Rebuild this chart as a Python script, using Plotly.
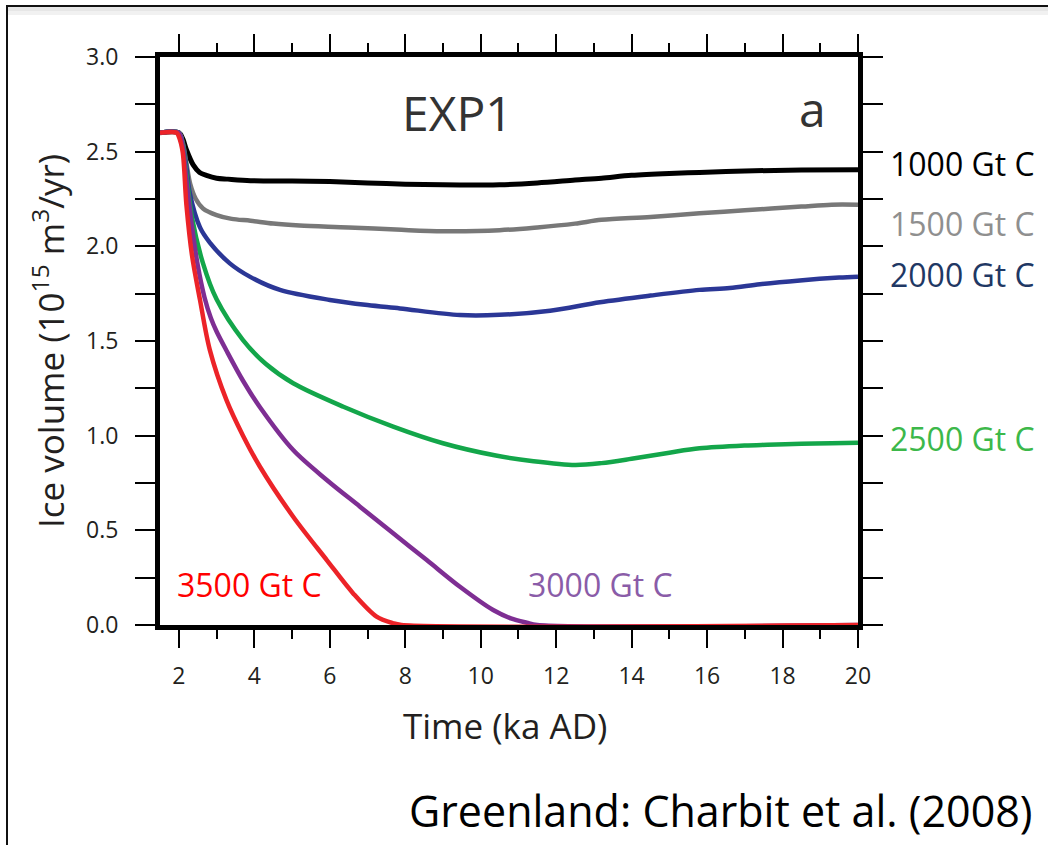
import plotly.graph_objects as go

# Ice volume time series, time in ka AD, volume in 10^15 m^3/yr
t_1000 = [1.5, 2.0, 2.1, 2.2, 2.38, 2.55, 2.73, 3.0, 3.3, 3.9, 5.0, 6.0, 7.0, 8.0, 9.0,
          10.0, 10.5, 11.5, 12.5, 13.2, 14.0, 15.0, 15.8, 17.0, 18.5, 20.0]
v_1000 = [2.6, 2.6, 2.57, 2.51, 2.43, 2.39, 2.375, 2.36, 2.355, 2.347, 2.345, 2.342, 2.335,
          2.328, 2.325, 2.324, 2.325, 2.335, 2.35, 2.36, 2.375, 2.385, 2.39, 2.398, 2.403, 2.405]

t_1500 = [1.5, 2.0, 2.1, 2.2, 2.3, 2.45, 2.64, 3.0, 3.4, 3.9, 4.5, 5.2, 6.5, 7.9, 9.0,
          10.5, 11.5, 12.5, 13.2, 14.5, 15.8, 17.0, 18.5, 19.3, 20.0]
v_1500 = [2.6, 2.6, 2.55, 2.44, 2.33, 2.25, 2.2, 2.165, 2.145, 2.135, 2.12, 2.11, 2.1, 2.087,
          2.08, 2.085, 2.1, 2.12, 2.14, 2.155, 2.175, 2.19, 2.21, 2.22, 2.22]

t_2000 = [1.5, 2.0, 2.1, 2.2, 2.29, 2.56, 2.82, 3.35, 3.88, 4.68, 6.0, 7.0, 7.86, 9.45,
          10.5, 11.84, 13.16, 14.5, 15.8, 16.6, 17.4, 18.46, 19.5, 20.0]
v_2000 = [2.6, 2.6, 2.54, 2.42, 2.28, 2.10, 2.02, 1.91, 1.84, 1.77, 1.717, 1.69, 1.672, 1.637,
          1.638, 1.66, 1.705, 1.74, 1.77, 1.78, 1.80, 1.82, 1.835, 1.84]

t_2500 = [1.5, 2.0, 2.1, 2.2, 2.35, 2.64, 3.0, 3.7, 4.3, 5.03, 6.36, 7.68, 9.0, 10.4, 11.4,
          12.5, 13.2, 14.0, 15.0, 15.8, 17.0, 17.6, 18.5, 19.3, 20.0]
v_2500 = [2.6, 2.6, 2.54, 2.38, 2.15, 1.91, 1.72, 1.505, 1.38, 1.277, 1.153, 1.048, 0.96, 0.895,
          0.865, 0.845, 0.855, 0.878, 0.91, 0.933, 0.948, 0.952, 0.957, 0.96, 0.963]

t_3000 = [1.5, 2.0, 2.1, 2.2, 2.35, 2.5, 2.68, 2.85, 3.0, 3.26, 3.7, 4.15, 5.03, 5.92, 6.8,
          7.68, 8.57, 9.45, 10.33, 10.8, 11.22, 11.5, 20.0]
v_3000 = [2.6, 2.6, 2.53, 2.35, 2.1, 1.9, 1.73, 1.62, 1.55, 1.45, 1.29, 1.15, 0.924, 0.766,
          0.625, 0.484, 0.343, 0.202, 0.079, 0.035, 0.012, 0.0, 0.0]

t_3500 = [1.5, 1.94, 2.0, 2.1, 2.2, 2.35, 2.56, 2.82, 3.26, 3.7, 4.15, 5.03, 5.92, 6.62, 7.24,
          7.68, 7.9, 20.0]
v_3500 = [2.6, 2.6, 2.58, 2.5, 2.22, 1.95, 1.717, 1.453, 1.189, 1.0, 0.836, 0.572, 0.343, 0.167,
          0.044, 0.009, 0.0, 0.0]

series = [
    ("1000 Gt C", t_1000, v_1000, "#000000", "#000000", 5),
    ("1500 Gt C", t_1500, v_1500, "#787878", "#8f8f8f", 4.5),
    ("2000 Gt C", t_2000, v_2000, "#2b3796", "#1f3864", 4.5),
    ("2500 Gt C", t_2500, v_2500, "#13a64a", "#3cb84a", 4.5),
    ("3000 Gt C", t_3000, v_3000, "#7e2e93", "#8a5ca8", 4.5),
    ("3500 Gt C", t_3500, v_3500, "#ec2328", "#ff0000", 4.5),
]

x_ticks = [2, 4, 6, 8, 10, 12, 14, 16, 18, 20]
x_minor = [3, 5, 7, 9, 11, 13, 15, 17, 19]
y_ticks = [0.0, 0.5, 1.0, 1.5, 2.0, 2.5, 3.0]
y_text = ["0.0", "0.5", "1.0", "1.5", "2.0", "2.5", "3.0"]
y_minor = [0.25, 0.75, 1.25, 1.75, 2.25, 2.75]

W, H = 1048, 845
L, R, T, B = 160, 190, 57, 220
PW, PH = W - L - R, H - T - B


def px(x):
    return (x - L) / PW


def py(y):
    return (H - B - y) / PH


fig = go.Figure()
for name, t, v, line_col, _, lw in series:
    fig.add_trace(go.Scatter(x=t, y=v, mode="lines", name=name,
                             line=dict(color=line_col, width=lw, shape="spline", smoothing=0.9),
                             showlegend=False))

axis_font = dict(family="Open Sans", size=23, color="#231f20")
fig.update_xaxes(range=[1.5, 20], tickmode="array", tickvals=x_ticks,
                 showline=True, linewidth=5, linecolor="black", mirror="allticks",
                 ticks="outside", ticklen=18, tickwidth=2, tickcolor="black",
                 minor=dict(tickvals=x_minor, ticks="outside", ticklen=9, tickwidth=2,
                            tickcolor="black"),
                 showgrid=False, zeroline=False, tickfont=axis_font, ticklabelstandoff=8)
fig.update_yaxes(range=[0, 3], tickmode="array", tickvals=y_ticks, ticktext=y_text,
                 showline=True, linewidth=5, linecolor="black", mirror="allticks",
                 ticks="outside", ticklen=20, tickwidth=2, tickcolor="black",
                 minor=dict(tickvals=y_minor, ticks="outside", ticklen=20, tickwidth=2,
                            tickcolor="black"),
                 showgrid=False, zeroline=False, tickfont=axis_font, ticklabelstandoff=12)

ann = []
text_font = "Open Sans"
# axis titles
ann.append(dict(text="Time (ka AD)", x=px(505), y=py(725), xref="paper", yref="paper",
                showarrow=False, font=dict(family=text_font, size=35, color="#231f20"),
                xanchor="center", yanchor="middle"))
ann.append(dict(text="Ice volume (10<sup>15</sup> m<sup>3</sup>/yr)", x=px(48), y=py(341),
                xref="paper", yref="paper", textangle=-90, showarrow=False,
                font=dict(family=text_font, size=35, color="#231f20"),
                xanchor="center", yanchor="middle"))
# panel labels
ann.append(dict(text="EXP1", x=px(457), y=py(112), xref="paper", yref="paper", showarrow=False,
                font=dict(family=text_font, size=48, color="#333333"),
                xanchor="center", yanchor="middle"))
ann.append(dict(text="a", x=px(812), y=py(108), xref="paper", yref="paper", showarrow=False,
                font=dict(family=text_font, size=48, color="#333333"),
                xanchor="center", yanchor="middle"))
# series labels
label_pos = {
    "1000 Gt C": (888, 163),
    "1500 Gt C": (888, 223),
    "2000 Gt C": (888, 274),
    "2500 Gt C": (888, 438),
    "3000 Gt C": (526, 584),
    "3500 Gt C": (175, 584),
}
for name, _, _, _, lab_col, _ in series:
    lx, ly = label_pos[name]
    ann.append(dict(text=name, x=px(lx), y=py(ly), xref="paper", yref="paper", showarrow=False,
                    font=dict(family=text_font, size=32, color=lab_col),
                    xanchor="left", yanchor="middle"))
ann.append(dict(text="Greenland: Charbit et al. (2008)", x=px(721), y=py(810), xref="paper",
                yref="paper", showarrow=False,
                font=dict(family=text_font, size=43, color="#000000"),
                xanchor="center", yanchor="middle"))

shapes = [
    # soft shadow under the frame's top edge
    dict(type="rect", xref="paper", yref="paper", x0=px(8), x1=px(1070), y0=py(15), y1=py(7),
         line=dict(width=0), fillcolor="#f1f1f1", layer="below"),
    dict(type="rect", xref="paper", yref="paper", x0=px(8), x1=px(1070), y0=py(11), y1=py(7),
         line=dict(width=0), fillcolor="#e6e6e6", layer="below"),
    # outer frame
    dict(type="rect", xref="paper", yref="paper", x0=px(7), x1=px(1070), y0=py(870), y1=py(6),
         line=dict(color="#111111", width=2), fillcolor="rgba(0,0,0,0)"),
]

fig.update_layout(width=W, height=H, margin=dict(l=L, r=R, t=T, b=B),
                  plot_bgcolor="white", paper_bgcolor="white",
                  annotations=ann, shapes=shapes)

fig.write_html("out.html")
